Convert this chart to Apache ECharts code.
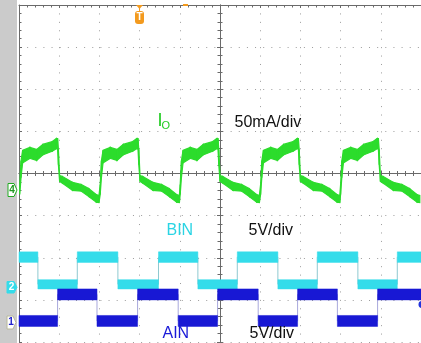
<!DOCTYPE html>
<html><head><meta charset="utf-8">
<script src="https://cdn.jsdelivr.net/npm/echarts@6/dist/echarts.min.js"></script>
<style>html,body{margin:0;padding:0;background:#fff;overflow:hidden}#c{width:421px;height:343px}</style>
</head><body><div id="c"></div>
<script>
// Horizontal positions in divisions from screen centre, vertical in divisions from centre line
const ioTime = [
  -4.98, -4.95, -4.91, -4.73, -4.56, -4.41, -4.17, -4.07, -4.04, -4.02, -3.99, -3.92, -3.67, -3.45, -3.26, -3.08, -3.01,
  -2.98, -2.95, -2.91, -2.73, -2.56, -2.41, -2.17, -2.07, -2.04, -2.02, -1.99, -1.92, -1.67, -1.45, -1.26, -1.08, -1.01,
  -0.99, -0.96, -0.92, -0.74, -0.57, -0.42, -0.18, -0.08, -0.05, -0.03, 0.00, 0.07, 0.32, 0.54, 0.73, 0.91, 0.98,
  1.01, 1.04, 1.08, 1.26, 1.43, 1.58, 1.82, 1.92, 1.95, 1.97, 2.00, 2.07, 2.32, 2.54, 2.73, 2.91, 2.98,
  3.00, 3.03, 3.07, 3.25, 3.42, 3.57, 3.81, 3.91, 3.94, 3.96, 3.99, 4.06, 4.31, 4.53, 4.72, 4.90, 4.97
];
const ioTop = [
  -0.26, 0.30, 0.55, 0.62, 0.57, 0.69, 0.76, 0.83, 0.83, 0.57, -0.05, -0.07, -0.21, -0.26, -0.36, -0.50, -0.52,
  -0.26, 0.30, 0.55, 0.62, 0.57, 0.69, 0.76, 0.83, 0.83, 0.57, -0.05, -0.07, -0.21, -0.26, -0.36, -0.50, -0.52,
  -0.26, 0.30, 0.55, 0.62, 0.57, 0.69, 0.76, 0.83, 0.83, 0.57, -0.05, -0.07, -0.21, -0.26, -0.36, -0.50, -0.52,
  -0.26, 0.30, 0.55, 0.62, 0.57, 0.69, 0.76, 0.83, 0.83, 0.57, -0.05, -0.07, -0.21, -0.26, -0.36, -0.50, -0.52,
  -0.26, 0.30, 0.55, 0.62, 0.57, 0.69, 0.76, 0.83, 0.83, 0.57, -0.05, -0.07, -0.21, -0.26, -0.36, -0.50, -0.52
];
const ioBottom = [
  -0.50, -0.10, 0.25, 0.36, 0.31, 0.44, 0.53, 0.59, 0.58, 0.21, -0.19, -0.23, -0.40, -0.42, -0.55, -0.68, -0.69,
  -0.50, -0.10, 0.25, 0.36, 0.31, 0.44, 0.53, 0.59, 0.58, 0.21, -0.19, -0.23, -0.40, -0.42, -0.55, -0.68, -0.69,
  -0.50, -0.10, 0.25, 0.36, 0.31, 0.44, 0.53, 0.59, 0.58, 0.21, -0.19, -0.23, -0.40, -0.42, -0.55, -0.68, -0.69,
  -0.50, -0.10, 0.25, 0.36, 0.31, 0.44, 0.53, 0.59, 0.58, 0.21, -0.19, -0.23, -0.40, -0.42, -0.55, -0.68, -0.69,
  -0.50, -0.10, 0.25, 0.36, 0.31, 0.44, 0.53, 0.59, 0.58, 0.21, -0.19, -0.23, -0.40, -0.42, -0.55, -0.68, -0.69
];
const binTime   = [-5, -4.53, -3.55, -2.54, -1.53, -0.55, 0.43, 1.44, 2.42, 3.43, 4.41, 5];
const binTop    = [-1.86, -2.52, -1.86, -2.52, -1.86, -2.52, -1.86, -2.52, -1.86, -2.52, -1.86, -1.86];
const binBottom = [-2.11, -2.74, -2.11, -2.74, -2.11, -2.74, -2.11, -2.74, -2.11, -2.74, -2.11, -2.11];
const ainTime   = [-5, -4.04, -3.06, -2.05, -1.04, -0.06, 0.95, 1.93, 2.92, 3.92, 5];
const ainTop    = [-3.37, -2.74, -3.37, -2.74, -3.37, -2.74, -3.37, -2.74, -3.37, -2.74, -2.74];
const ainBottom = [-3.63, -3.00, -3.63, -3.00, -3.63, -3.00, -3.63, -3.00, -3.63, -3.00, -3.00];
const labels = { io: 'I', ioSub: 'O', ioScale: '50mA/div', bin: 'BIN', binScale: '5V/div', ain: 'AIN', ainScale: '5V/div' };

const GREEN = '#2cdc2c', CYAN = '#34dcea', BLUE = '#1818d4';

// segments between consecutive samples: [x0, top0, bot0, x1, top1, bot1]
function segments(t, top, bot, stepped) {
  const out = [];
  for (let i = 0; i < t.length - 1; i++) {
    if (stepped) out.push([t[i], top[i], bot[i], t[i + 1], top[i], bot[i]]);
    else out.push([t[i], top[i], bot[i], t[i + 1], top[i + 1], bot[i + 1]]);
  }
  return out;
}
function bandSeries(name, data, fill, stroke, strokeW) {
  return {
    name: name, type: 'custom', data: data, z: 3, silent: true,
    encode: { x: [0, 3], y: [1, 2, 4, 5] },
    renderItem: function (params, api) {
      const a = api.coord([api.value(0), api.value(1)]);
      const b = api.coord([api.value(3), api.value(4)]);
      const c = api.coord([api.value(3), api.value(5)]);
      const d = api.coord([api.value(0), api.value(2)]);
      return { type: 'polygon', shape: { points: [a, b, c, d] },
        style: { fill: fill, stroke: stroke, lineWidth: strokeW } };
    }
  };
}
function edgeSeries(name, t, top, bot, color) {
  return { name: name, type: 'line', step: 'end', data: t.map((x, i) => [x, (top[i] + bot[i]) / 2]),
    symbol: 'none', z: 2, silent: true, lineStyle: { color: color, width: 1 } };
}

const AX = '#6a6a6a', GRIDC = '#9c9c9c';
function xa(pos, onZero, inside, split) {
  return { type: 'value', min: -5, max: 5, interval: 1, position: pos,
    axisLine: { show: true, onZero: onZero, lineStyle: { color: AX, width: 1 } },
    axisTick: { show: true, inside: inside, length: 3, lineStyle: { color: AX } },
    minorTick: { show: true, splitNumber: 5, length: 2.5, lineStyle: { color: AX } },
    axisLabel: { show: false },
    splitLine: { show: split, lineStyle: { color: GRIDC, width: 1, type: [1, 7.425] } } };
}
function ya(pos, onZero, inside, split) {
  return { type: 'value', min: -4, max: 4, interval: 1, position: pos,
    axisLine: { show: true, onZero: onZero, lineStyle: { color: AX, width: 1 } },
    axisTick: { show: true, inside: inside, length: 3, lineStyle: { color: AX } },
    minorTick: { show: true, splitNumber: 5, length: 2.5, lineStyle: { color: AX } },
    axisLabel: { show: false },
    splitLine: { show: split, lineStyle: { color: GRIDC, width: 1, type: [1, 7.14] } } };
}

const FONT = '"Liberation Sans", Arial, sans-serif';
function txt(s, x, y, size, color) {
  return { type: 'text', x: x, y: y, z: 100, silent: true,
    style: { text: s, fill: color, font: size + 'px ' + FONT, textAlign: 'left', textVerticalAlign: 'middle', align: 'left', verticalAlign: 'middle' } };
}
function tag(x, y, w, h, stroke, fill) {
  return { type: 'polygon', z: 90, silent: true,
    shape: { points: [[x, y], [x + w - 3, y], [x + w, y + h / 2], [x + w - 3, y + h], [x, y + h]] },
    style: { stroke: stroke, fill: fill, lineWidth: 1 } };
}
function ctxt(s, x, y, color) {
  return { type: 'text', x: x, y: y, z: 100, silent: true,
    style: { text: s, fill: color, font: 'bold 10px ' + FONT, textAlign: 'center', textVerticalAlign: 'middle', align: 'center', verticalAlign: 'middle' } };
}

const chart = echarts.init(document.getElementById('c'), null, { renderer: 'canvas' });
chart.setOption({
  animation: false,
  backgroundColor: '#ffffff',
  grid: { left: 19, top: 5, width: 407, height: 337, containLabel: false },
  xAxis: [xa('bottom', true, false, true), xa('top', true, false, false), xa('top', false, true, false)],
  yAxis: [ya('left', true, false, true), ya('right', true, false, false), ya('left', false, true, false)],
  series: [
    bandSeries('io', segments(ioTime, ioTop, ioBottom, false), GREEN, GREEN, 1.2),
    edgeSeries('binEdge', binTime, binTop, binBottom, '#8fc9d0'),
    bandSeries('bin', segments(binTime, binTop, binBottom, true), CYAN, CYAN, 0.5),
    edgeSeries('ainEdge', ainTime, ainTop, ainBottom, '#a8a8dc'),
    bandSeries('ain', segments(ainTime, ainTop, ainBottom, true), BLUE, BLUE, 0.5)
  ],
  graphic: [
    { type: 'rect', z: 80, silent: true, shape: { x: 0, y: 0, width: 17, height: 343 }, style: { fill: '#cbcbcb' } },
    tag(8, 183.5, 9, 13, '#22aa22', '#ffffff'), ctxt('4', 12, 190.5, '#229922'),
    tag(7, 281.5, 10, 11.5, CYAN, CYAN), ctxt('2', 11.5, 287.5, '#ffffff'),
    tag(7, 316, 9, 13, '#b8b89a', '#ffffff'), ctxt('1', 11, 322.5, '#2222cc'),
    { type: 'polygon', z: 90, silent: true, shape: { points: [[136, 5], [143, 5], [139.5, 9]] }, style: { fill: '#f39a1e' } },
    { type: 'rect', z: 90, silent: true, shape: { x: 139, y: 8, width: 1, height: 4 }, style: { fill: '#f39a1e' } },
    { type: 'rect', z: 90, silent: true, shape: { x: 135, y: 11, width: 9, height: 13, r: 3 }, style: { fill: '#f39a1e' } },
    ctxt('T', 139.5, 17.5, '#ffffff'),
    { type: 'rect', z: 90, silent: true, shape: { x: 183, y: 4, width: 5, height: 2 }, style: { fill: '#f39a1e' } },
    { type: 'circle', z: 90, silent: true, shape: { cx: 422, cy: 304.5, r: 3.5 }, style: { fill: '#2233dd' } },
    txt(labels.io, 157.5, 121.5, 18, '#22cc22'),
    txt(labels.ioSub, 161.5, 125.5, 11, '#22cc22'),
    txt(labels.ioScale, 234.5, 122.5, 16, '#111111'),
    txt(labels.bin, 166.5, 231, 16, '#2ad4e4'),
    txt(labels.binScale, 248.5, 231, 16, '#111111'),
    txt(labels.ain, 162.5, 334, 16, '#1a1ad8'),
    txt(labels.ainScale, 249.5, 334, 16, '#111111')
  ]
});
</script></body></html>
